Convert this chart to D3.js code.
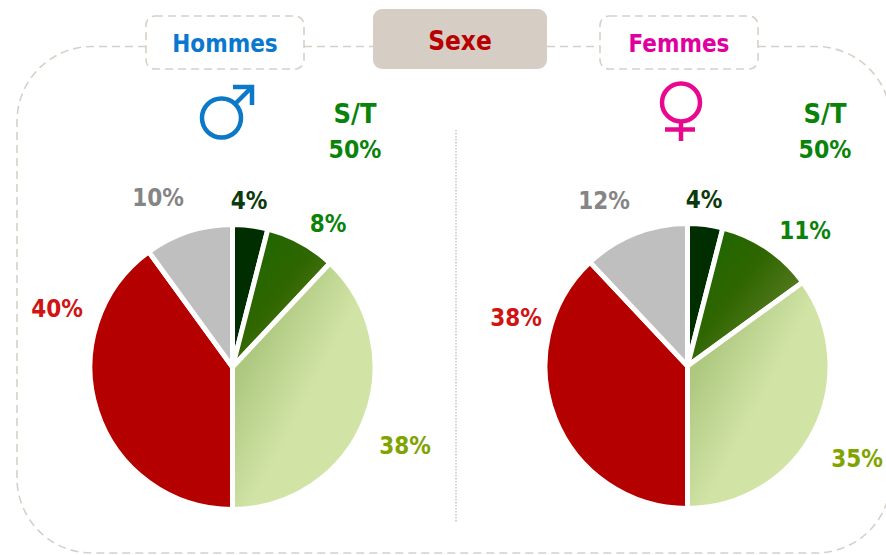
<!DOCTYPE html>
<html><head><meta charset="utf-8">
<script src="https://cdn.jsdelivr.net/npm/d3@7"></script>
<style>html,body{margin:0;padding:0;background:#fff}svg{display:block}text{font-family:"DejaVu Sans",sans-serif;font-stretch:condensed;font-weight:700}</style>
</head><body><svg id="c" width="886" height="555"></svg>
<script>
const categories=["Très satisfait","Plutôt satisfait","Plutôt pas satisfait","Pas du tout satisfait","NSP"];
const hommesValues=[4,8,38,40,10];
const femmesValues=[4,11,35,38,12];
const sliceFills=["#002e00","url(#gDark)","url(#gLight)","#b50000","#bfbfbf"];
const labelColors=["#0c3a0c","#0a830a","#7fa400","#d01414","#858585"];
const W=886,H=555;
const svg=d3.select("#c");
const defs=svg.append("defs");
function grad(id,stops,x1,y1,x2,y2){const g=defs.append("linearGradient").attr("id",id).attr("gradientUnits","userSpaceOnUse")
 .attr("x1",x1).attr("y1",y1).attr("x2",x2).attr("y2",y2);
 stops.forEach(s=>g.append("stop").attr("offset",s[0]).attr("stop-color",s[1]));}
grad("gDark",[[0,"#1c6600"],[.55,"#2f6600"],[1,"#557a20"]],15,-135,105,-65);
grad("gLight",[[0,"#aec880"],[1,"#d1e4a6"]],9,5,72,38);
const dash="#d8d0c8";
const p=d3.path();
p.moveTo(146,46.5);p.lineTo(92,46.5);p.arcTo(17,46.5,17,121.5,75);p.lineTo(17,478);p.arcTo(17,553,92,553,75);p.lineTo(816,553);p.arcTo(891,553,891,478,75);
svg.append("path").attr("d",p.toString()).attr("fill","none").attr("stroke",dash).attr("stroke-width",1.6).attr("stroke-dasharray","8 5");
const p2=d3.path();p2.moveTo(304,46.5);p2.lineTo(374,46.5);p2.moveTo(547,46.5);p2.lineTo(600,46.5);p2.moveTo(758,46.5);p2.lineTo(816,46.5);p2.arcTo(891,46.5,891,121.5,75);
svg.append("path").attr("d",p2.toString()).attr("fill","none").attr("stroke",dash).attr("stroke-width",1.6).attr("stroke-dasharray","8 5");
svg.append("line").attr("x1",456).attr("x2",456).attr("y1",130).attr("y2",523).attr("stroke","#c9c2ba").attr("stroke-width",1.5).attr("stroke-dasharray","1.5 1.5");
function box(x,y,w,h,txt,col,size){svg.append("rect").attr("x",x).attr("y",y).attr("width",w).attr("height",h).attr("rx",9).attr("fill","#fff").attr("stroke",dash).attr("stroke-width",1.6).attr("stroke-dasharray","8 5");
 svg.append("text").attr("x",x+w/2).attr("y",52).attr("text-anchor","middle").attr("font-size",size).attr("fill",col).text(txt);}
box(146,16,158,53,"Hommes","#0b78d0",24);
box(600,16,158,53,"Femmes","#e000a0",24);
svg.append("rect").attr("x",373).attr("y",9).attr("width",174).attr("height",60).attr("rx",9).attr("fill","#d6cdc4");
svg.append("text").attr("x",460).attr("y",50).attr("text-anchor","middle").attr("font-size",26).attr("fill","#b80000").text("Sexe");
const male=svg.append("g").attr("stroke","#0b78c8").attr("fill","none").attr("stroke-width",4.5);
male.append("circle").attr("cx",221.5).attr("cy",118).attr("r",19.5);
male.append("line").attr("x1",235).attr("y1",104).attr("x2",251).attr("y2",88);
male.append("path").attr("d","M233 87 H252 V105");
const fem=svg.append("g").attr("stroke","#e8088f").attr("fill","none").attr("stroke-width",4.5);
fem.append("circle").attr("cx",681).attr("cy",102.5).attr("r",19);
fem.append("line").attr("x1",681).attr("y1",122).attr("x2",681).attr("y2",141);
fem.append("line").attr("x1",665).attr("y1",129.5).attr("x2",695).attr("y2",129.5);
function st(x){[["S/T",123,27],["50%",158,24.5]].forEach(d=>svg.append("text").attr("x",x).attr("y",d[1]).attr("text-anchor","middle").attr("font-size",d[2]).attr("fill","#0a830a").text(d[0]));}
st(355);st(825);
const pie=d3.pie().sort(null).value(d=>d);
const arc=d3.arc().innerRadius(0).outerRadius(142.5);
function drawPie(values,cx,cy,labels){
 const g=svg.append("g").attr("transform",`translate(${cx},${cy})`);
 g.selectAll("path").data(pie(values)).join("path").attr("d",arc).attr("fill",(d,i)=>sliceFills[i]).attr("stroke","#fff").attr("stroke-width",5).attr("stroke-linejoin","miter");
 svg.selectAll(null).data(values.map((v,i)=>({v,i}))).join("text").attr("x",d=>labels[d.i][0]).attr("y",d=>labels[d.i][1]).attr("text-anchor","middle").attr("font-size",24).attr("fill",d=>labelColors[d.i]).text(d=>d.v+"%");
}
drawPie(hommesValues,232.5,367,[[249,209],[328,232],[405,454],[57,317],[158,206]]);
drawPie(femmesValues,687.5,366,[[704,208],[805,239],[857,467],[516,326],[604,209]]);
</script></body></html>
